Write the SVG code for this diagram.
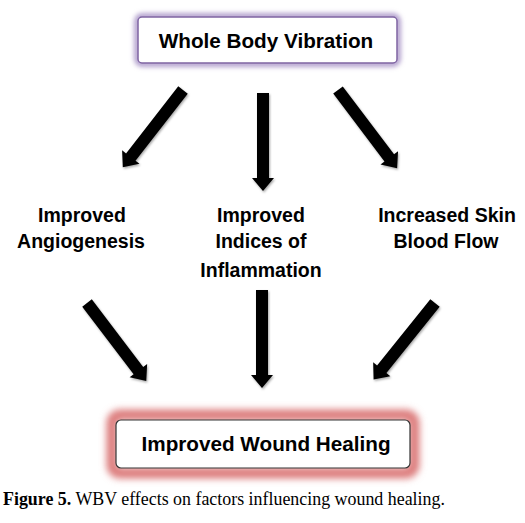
<svg xmlns="http://www.w3.org/2000/svg" xmlns:xlink="http://www.w3.org/1999/xlink" width="525" height="523" viewBox="0 0 525 523">
<style>
.lbl{font-family:"Liberation Sans",Arial,sans-serif;font-weight:bold;font-size:19.5px;fill:#000;text-anchor:middle}
.box{font-family:"Liberation Sans",Arial,sans-serif;font-weight:bold;font-size:20.7px;fill:#000;text-anchor:middle}
.cap{font-family:"Liberation Serif","Times New Roman",serif;font-size:17.9px;fill:#000}
</style>
<defs>
<filter id="glowP" x="-20%" y="-50%" width="140%" height="200%">
<feGaussianBlur stdDeviation="2.5"/>
</filter>
<filter id="glowR" x="-20%" y="-50%" width="140%" height="200%">
<feGaussianBlur stdDeviation="3.5"/>
</filter>
<filter id="sh" x="-50%" y="-20%" width="200%" height="140%">
<feDropShadow dx="1" dy="1.5" stdDeviation="1.2" flood-color="#000" flood-opacity="0.35"/>
</filter>
<path id="arrow" d="M-6,0 L6,0 L6,85 L11,85 L0,98 L-11,85 L-6,85 Z" fill="#000"/>
</defs>
<rect width="525" height="523" fill="#fff"/>
<g id="node-wbv">
<rect x="137" y="16" width="261" height="48" rx="5" fill="none" stroke="#a48fc4" stroke-width="5" filter="url(#glowP)"/>
<rect x="138" y="17" width="259" height="46" rx="4" fill="#fff" stroke="#7f64a3" stroke-width="1.5"/>
<text class="box" x="266" y="48">Whole Body Vibration</text>
</g>
<g id="node-angio">
<text class="lbl" x="82" y="222">Improved</text>
<text class="lbl" x="81" y="248">Angiogenesis</text>
</g>
<g id="node-inflam">
<text class="lbl" x="261" y="222">Improved</text>
<text class="lbl" x="261" y="248">Indices of</text>
<text class="lbl" x="261" y="277">Inflammation</text>
</g>
<g id="node-skin">
<text class="lbl" x="447" y="222">Increased Skin</text>
<text class="lbl" x="446" y="248">Blood Flow</text>
</g>
<g id="node-heal">
<rect x="112" y="415" width="302" height="58" rx="8" fill="none" stroke="#dc7a7a" stroke-width="11" filter="url(#glowR)"/>
<rect x="116" y="420" width="294" height="48" rx="5" fill="#fff" stroke="#333" stroke-width="1.2"/>
<text class="box" x="266" y="451">Improved Wound Healing</text>
</g>
<g id="connectors" filter="url(#sh)">
<use xlink:href="#arrow" transform="translate(183,90) rotate(37.9)"/>
<use xlink:href="#arrow" transform="translate(263,93)"/>
<use xlink:href="#arrow" transform="translate(338,90) rotate(-37.1)"/>
<use xlink:href="#arrow" transform="translate(87,303) rotate(-37.2)"/>
<use xlink:href="#arrow" transform="translate(262,290)"/>
<use xlink:href="#arrow" transform="translate(435,303) rotate(38.8)"/>
</g>
<text class="cap" x="3" y="505"><tspan font-weight="bold">Figure 5.</tspan> WBV effects on factors influencing wound healing.</text>
</svg>
